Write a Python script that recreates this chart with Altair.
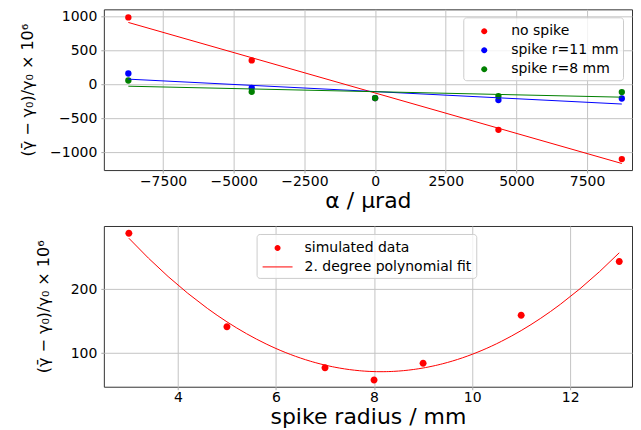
import altair as alt
import pandas as pd

# ---- top panel data ----
alpha = [-8727, -4363, 0, 4363, 8727]
no_spike = [990, 355, -200, -669, -1102]
spike_r11 = [162, -49, -200, -230, -207]
spike_r8 = [59, -108, -200, -171, -112]
series_names = ["no spike", "spike r=11 mm", "spike r=8 mm"]
series_colors = ["red", "blue", "green"]
alpha_ticks = [-7500, -5000, -2500, 0, 2500, 5000, 7500]
top_y_ticks = [-1000, -500, 0, 500, 1000]

# ---- bottom panel data ----
radius = [3, 5, 7, 8, 9, 11, 13]
rel_change = [287, 141, 77, 58, 84, 159, 243]
bottom_names = ["simulated data", "2. degree polynomial fit"]
radius_ticks = [4, 6, 8, 10, 12]
bottom_y_ticks = [100, 200]

FONT = "DejaVu Sans"
YTITLE = "(γ̄ − γ₀)/γ₀ × 10⁶"
CIRCLE = "M-0.3,0A0.3,0.3,0,1,1,0.3,0A0.3,0.3,0,1,1,-0.3,0Z"
LINE = "M-1.5,-0.05H1.5V0.05H-1.5Z"

top_df = pd.DataFrame({
    "alpha": alpha * 3,
    "value": no_spike + spike_r11 + spike_r8,
    "series": [n for n in series_names for _ in alpha],
})
bot_df = pd.DataFrame({"radius": radius, "value": rel_change,
                       "group": ["simulated data"] * len(radius)})

legend_common = dict(
    title=None, orient="none", padding=4, fillColor="rgba(255,255,255,0.8)",
    strokeColor="#cccccc", cornerRadius=3, labelFont=FONT, labelFontSize=14,
    labelColor="black", symbolSize=400, rowPadding=2, labelOffset=17,
    symbolOffset=7, symbolStrokeWidth=0, labelLimit=400,
)

def xaxis(title, values, fmt):
    return alt.Axis(title=title, values=values, format=fmt, grid=True,
                    tickSize=3, labelPadding=1, titlePadding=2)

def yaxis(values, pad):
    return alt.Axis(title=YTITLE, values=values, format="d", grid=True,
                    tickSize=3, labelPadding=4, titlePadding=pad,
                    titleFontSize=16)

W = 529
# ---- top chart ----
x_top = alt.X("alpha:Q", scale=alt.Scale(domain=[-9593, 9087], nice=False, zero=False),
              axis=xaxis("α / µrad", alpha_ticks, "d"))
y_top = alt.Y("value:Q", scale=alt.Scale(domain=[-1264, 1110], nice=False, zero=False),
              axis=yaxis(top_y_ticks, 14))
color_top = alt.Color("series:N", scale=alt.Scale(domain=series_names, range=series_colors),
                      legend=alt.Legend(legendX=360, legendY=8, symbolType=CIRCLE,
                                        **legend_common))

top_points = alt.Chart(top_df).mark_circle(size=40, opacity=1).encode(
    x=x_top, y=y_top, color=color_top)
top_lines = alt.Chart(top_df).transform_regression(
    "alpha", "value", groupby=["series"]).mark_line(strokeWidth=1).encode(
    x=x_top, y=y_top, color=alt.Color("series:N", scale=alt.Scale(domain=series_names, range=series_colors), legend=None))
top = alt.layer(top_points, top_lines).properties(width=W, height=161)

# ---- bottom chart ----
x_bot = alt.X("radius:Q", scale=alt.Scale(domain=[2.49, 13.26], nice=False, zero=False),
              axis=xaxis("spike radius / mm", radius_ticks, "d"))
y_bot = alt.Y("value:Q", scale=alt.Scale(domain=[47.5, 298.4], nice=False, zero=False),
              axis=yaxis(bottom_y_ticks, 19))
bot_points = alt.Chart(bot_df).mark_point(filled=True, size=544, opacity=1).encode(
    x=x_bot, y=y_bot,
    fill=alt.Fill("group:N", scale=alt.Scale(domain=bottom_names, range=["red", "red"]),
                  legend=alt.Legend(legendX=153, legendY=8, **legend_common)),
    shape=alt.Shape("group:N", scale=alt.Scale(domain=bottom_names, range=[CIRCLE, LINE]),
                    legend=alt.Legend(legendX=153, legendY=8, **legend_common)),
)
bot_line = alt.Chart(bot_df).transform_regression(
    "radius", "value", method="poly", order=2, extent=[3, 13]
).mark_line(color="red", strokeWidth=1).encode(x=x_bot, y=y_bot)
bottom = alt.layer(bot_points, bot_line).properties(width=W, height=161)

chart = alt.vconcat(top, bottom, spacing=13).resolve_scale(
    color="independent", shape="independent", fill="independent",
    x="independent", y="independent"
).resolve_legend(color="independent", shape="independent", fill="independent").properties(
    padding={"left": 11, "top": 0, "right": 0, "bottom": 0}
).configure_view(stroke="#333333", strokeWidth=1).configure_axis(
    labelFont=FONT, labelFontSize=14, labelColor="black",
    titleFont=FONT, titleFontSize=22, titleColor="black", titleFontWeight="normal",
    gridColor="#c4c4c4", gridWidth=1, tickColor="#aaaaaa", domain=False,
)

chart.save("out.html", embed_options={"renderer": "svg", "actions": False})
